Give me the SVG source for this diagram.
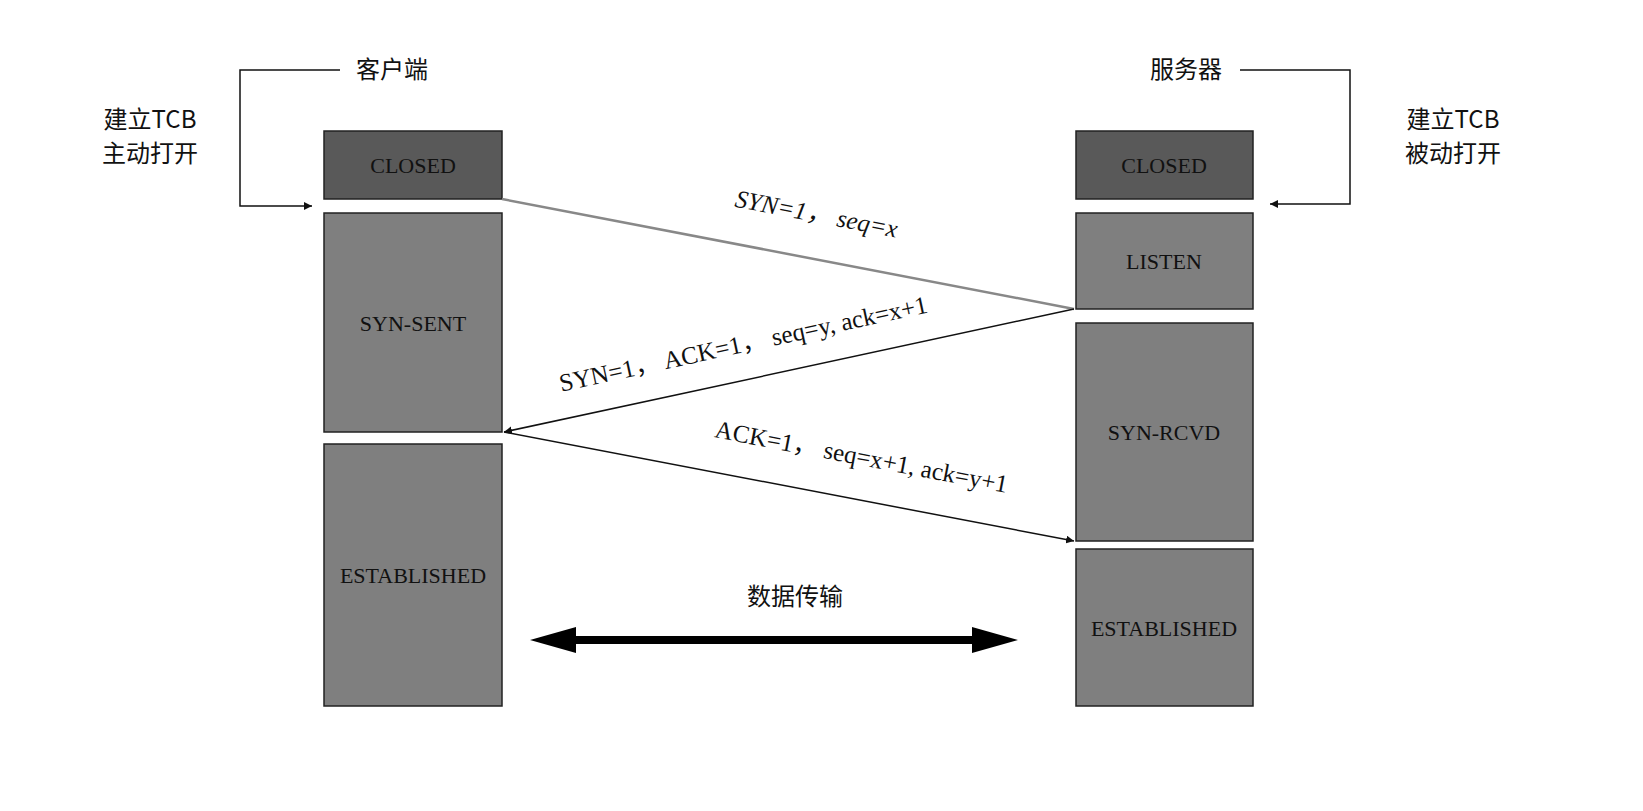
<svg xmlns="http://www.w3.org/2000/svg" width="1643" height="811" viewBox="0 0 1643 811">
<style>
.t{font-family:"Liberation Serif","Noto Sans CJK SC",serif;font-size:22px;fill:#111;text-anchor:middle}
.l{font-family:"Liberation Serif","Noto Sans CJK SC",serif;font-size:25px;fill:#111;text-anchor:middle}
.c{font-family:"Noto Sans CJK SC",sans-serif;font-size:24px;fill:#111;text-anchor:middle}
.dark{fill:#595959;stroke:#222;stroke-width:1.5}
.mid{fill:#7f7f7f;stroke:#222;stroke-width:1.5}
.ln{fill:none;stroke:#111;stroke-width:1.5}
</style>
<defs>
<marker id="a" viewBox="0 0 10 10" refX="10" refY="5" markerWidth="8" markerHeight="8" orient="auto" markerUnits="userSpaceOnUse"><path d="M0,0L10,5L0,10z" fill="#111"/></marker>
</defs>
<rect width="1643" height="811" fill="#fff"/>
<g id="client-closed"><rect class="dark" x="324" y="131" width="178" height="68"/><text class="t" x="413" y="173">CLOSED</text></g>
<g id="client-synsent"><rect class="mid" x="324" y="213" width="178" height="219"/><text class="t" x="413" y="331">SYN-SENT</text></g>
<g id="client-est"><rect class="mid" x="324" y="444" width="178" height="262"/><text class="t" x="413" y="583">ESTABLISHED</text></g>
<g id="server-closed"><rect class="dark" x="1076" y="131" width="177" height="68"/><text class="t" x="1164" y="173">CLOSED</text></g>
<g id="server-listen"><rect class="mid" x="1076" y="213" width="177" height="96"/><text class="t" x="1164" y="269">LISTEN</text></g>
<g id="server-synrcvd"><rect class="mid" x="1076" y="323" width="177" height="218"/><text class="t" x="1164" y="440">SYN-RCVD</text></g>
<g id="server-est"><rect class="mid" x="1076" y="549" width="177" height="157"/><text class="t" x="1164" y="636">ESTABLISHED</text></g>
<g id="labels">
<text class="c" x="392" y="78">客户端</text>
<text class="c" x="1186" y="78">服务器</text>
<text class="c" x="150" y="128">建立TCB</text>
<text class="c" x="150" y="162">主动打开</text>
<text class="c" x="1453" y="128">建立TCB</text>
<text class="c" x="1453" y="162">被动打开</text>
<text class="c" x="795" y="605">数据传输</text>
<text class="l" x="815" y="222" transform="rotate(10.9 815 222)" font-style="italic">SYN=1， seq=x</text>
<text class="l" x="745" y="352" transform="rotate(-12.2 745 352)">SYN=1， ACK=1， seq=y, ack=x+1</text>
<text class="l" x="860" y="465" transform="rotate(10.8 860 465)">ACK=1， seq=x+1, ack=y+1</text>
</g>
<g id="connectors">
<polyline class="ln" points="340,70 240,70 240,206 312,206" marker-end="url(#a)"/>
<polyline class="ln" points="1240,70 1350,70 1350,204 1270,204" marker-end="url(#a)"/>
<line x1="502" y1="199" x2="1074" y2="309" stroke="#888" stroke-width="2.5"/>
<line class="ln" x1="1074" y1="309" x2="504" y2="432" marker-end="url(#a)"/>
<line class="ln" x1="504" y1="432" x2="1074" y2="541" marker-end="url(#a)"/>
<line x1="570" y1="640" x2="980" y2="640" stroke="#000" stroke-width="8"/>
<path d="M530,640L576,627L576,653z M1018,640L972,627L972,653z" fill="#000"/>
</g>
</svg>
